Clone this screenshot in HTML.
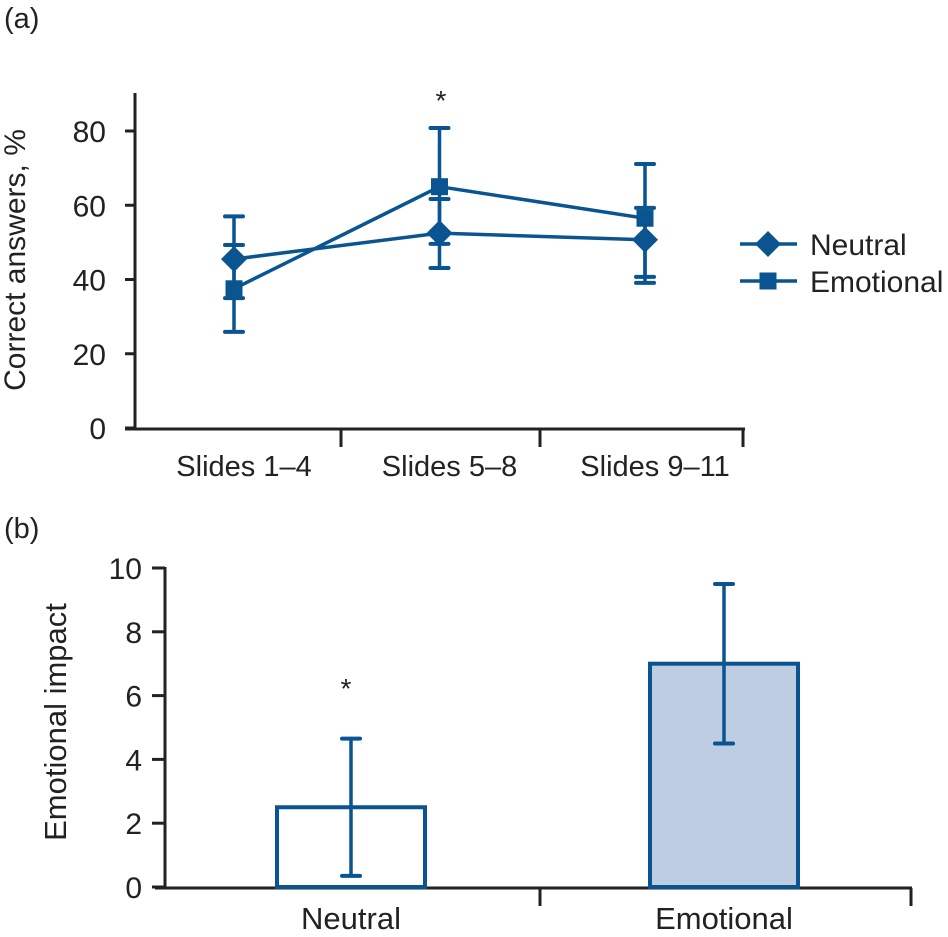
<!DOCTYPE html>
<html><head><meta charset="utf-8"><style>
body{margin:0;background:#fff}
svg text{font-family:"Liberation Sans",sans-serif;fill:#222}
</style></head><body>
<svg width="948" height="932" viewBox="0 0 948 932" xmlns="http://www.w3.org/2000/svg">
<g id="a"></g>
<g id="b"></g>
</svg>
<script>
const catsA=["Slides 1–4","Slides 5–8","Slides 9–11"];
const neutralVals=[45.5,52.5,50.7];
const neutralUp=[57,61.7,59.3];
const neutralLo=[35,43.1,39.1];
const emoVals=[37.5,65,56.5];
const emoUp=[49.3,80.8,71.1];
const emoLo=[25.9,49.6,40.7];
const ticksA=[0,20,40,60,80];
const catsB=["Neutral","Emotional"];
const barVals=[2.5,7];
const barUp=[4.65,9.5];
const barLo=[0.35,4.5];
const ticksB=[0,2,4,6,8,10];
const C="#0a5591",NS="http://www.w3.org/2000/svg";
function mk(p,t,a){const e=document.createElementNS(NS,t);for(const k in a)e.setAttribute(k,a[k]);p.appendChild(e);return e;}
function txt(p,x,y,s,size,anchor){const e=mk(p,"text",{x:x,y:y,"font-size":size,"text-anchor":anchor||"start"});e.textContent=s;return e;}
const A=document.getElementById("a"),B=document.getElementById("b");
const ya=v=>428-v*3.7125, xa=i=>234+i*205.5;
let t=txt(A,4,28,"(a)",29);

let l=mk(A,"line",{x1:135,y1:93,x2:135,y2:430,stroke:"#222","stroke-width":3});

l=mk(A,"line",{x1:125,y1:429,x2:745,y2:429,stroke:"#222","stroke-width":3});

ticksA.forEach(v=>{mk(A,"line",{x1:125,y1:ya(v),x2:135,y2:ya(v),stroke:"#222","stroke-width":3});
 t=txt(A,106,ya(v)+11,String(v),30,"end");
 });
[341,540,743].forEach(x=>mk(A,"line",{x1:x,y1:429,x2:x,y2:447,stroke:"#222","stroke-width":3}));
catsA.forEach((c,i)=>{t=txt(A,xa(i)+10,476,c,29,"middle");
 });
t=txt(A,0,0,"Correct answers, %",30,"middle");t.setAttribute("transform","translate(25,260) rotate(-90)");

function err(p,x,up,lo,y){mk(p,"line",{x1:x,y1:y(up),x2:x,y2:y(lo),stroke:C,"stroke-width":3.5});
 [up,lo].forEach(v=>mk(p,"line",{x1:x-9,y1:y(v),x2:x+9,y2:y(v),stroke:C,"stroke-width":4,"stroke-linecap":"round"}));}
neutralVals.forEach((v,i)=>err(A,xa(i),neutralUp[i],neutralLo[i],ya));
emoVals.forEach((v,i)=>err(A,xa(i),emoUp[i],emoLo[i],ya));
l=mk(A,"polyline",{points:neutralVals.map((v,i)=>xa(i)+","+ya(v)).join(" "),fill:"none",stroke:C,"stroke-width":3.5});

l=mk(A,"polyline",{points:emoVals.map((v,i)=>xa(i)+","+ya(v)).join(" "),fill:"none",stroke:C,"stroke-width":3.5});

function diamond(p,x,y){return mk(p,"polygon",{points:`${x-13},${y} ${x},${y-13} ${x+13},${y} ${x},${y+13}`,fill:C});}
function square(p,x,y){return mk(p,"rect",{x:x-8.5,y:y-8.5,width:17,height:17,fill:C});}
neutralVals.forEach((v,i)=>{const m=diamond(A,xa(i),ya(v));
 });
emoVals.forEach((v,i)=>{const m=square(A,xa(i),ya(v));
 });
t=txt(A,441,110,"*",28,"middle");
mk(A,"line",{x1:740,y1:244,x2:797,y2:244,stroke:C,"stroke-width":3.5});diamond(A,768,244);
t=txt(A,810,255,"Neutral",30);
mk(A,"line",{x1:740,y1:281,x2:797,y2:281,stroke:C,"stroke-width":3.5});square(A,768,281);
t=txt(A,810,292,"Emotional",30);
const yb=v=>887-v*31.9, xb=i=>351+i*373;
t=txt(B,4,538,"(b)",29);
l=mk(B,"line",{x1:165,y1:567,x2:165,y2:889,stroke:"#222","stroke-width":3});

l=mk(B,"line",{x1:155,y1:888,x2:912,y2:888,stroke:"#222","stroke-width":3});

ticksB.forEach(v=>{mk(B,"line",{x1:152,y1:yb(v),x2:165,y2:yb(v),stroke:"#222","stroke-width":3});
 t=txt(B,142,yb(v)+11,String(v),30,"end");});
[540,911].forEach(x=>mk(B,"line",{x1:x,y1:888,x2:x,y2:906,stroke:"#222","stroke-width":3}));
catsB.forEach((c,i)=>{t=txt(B,xb(i),929,c,31,"middle");});
t=txt(B,0,0,"Emotional impact",31,"middle");t.setAttribute("transform","translate(66,722) rotate(-90)");

barVals.forEach((v,i)=>{const r=mk(B,"rect",{x:xb(i)-74,y:yb(v),width:148,height:yb(0)-yb(v),fill:i?"#bfcde3":"#fff",stroke:C,"stroke-width":4});
 
 err(B,xb(i),barUp[i],barLo[i],yb);});
t=txt(B,346,698,"*",28,"middle");
</script>
</body></html>
